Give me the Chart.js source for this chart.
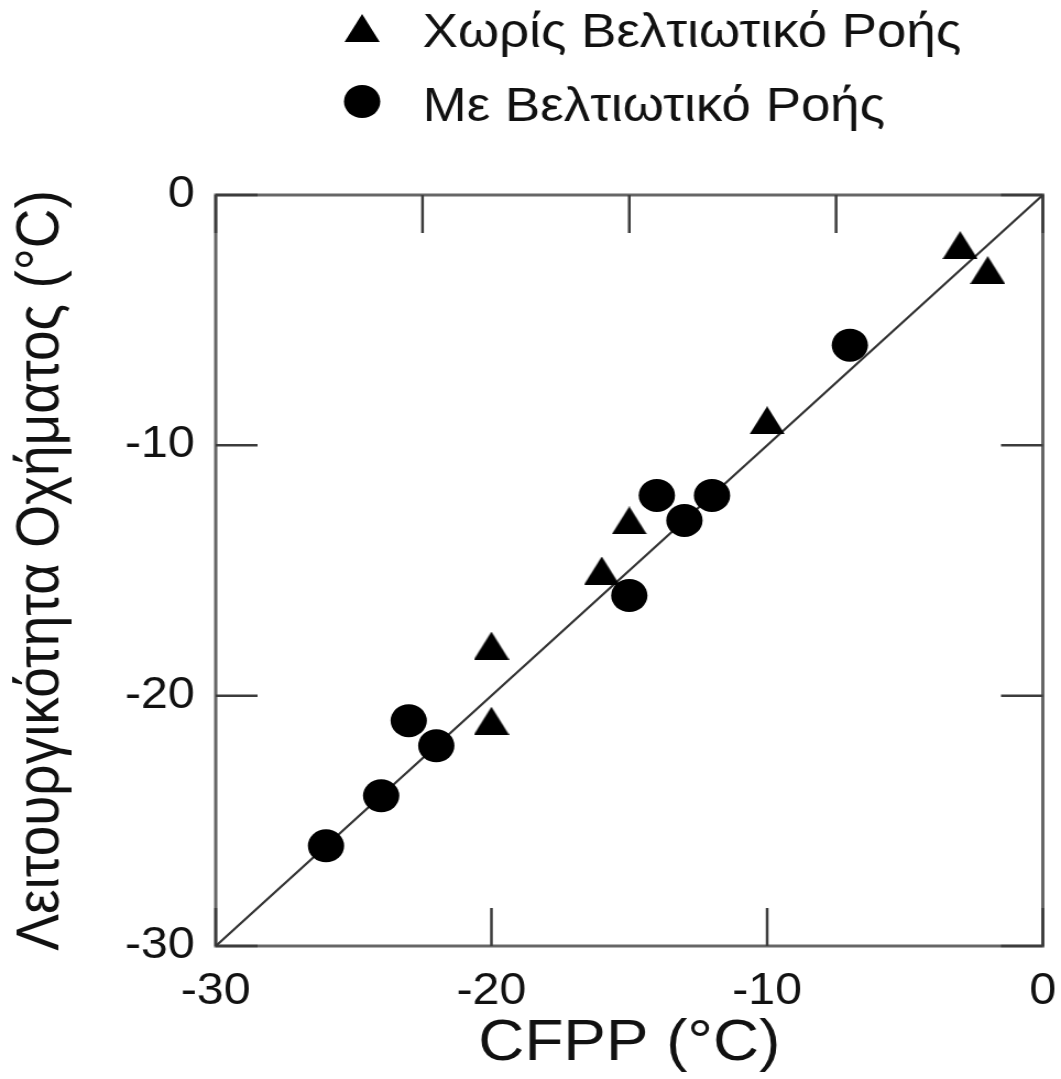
<!DOCTYPE html>
<html>
<head>
<meta charset="utf-8">
<title>CFPP</title>
<script src="https://cdn.jsdelivr.net/npm/chart.js@4.4.1/dist/chart.umd.min.js"></script>
<style>
  html, body { margin: 0; padding: 0; background: #fff; }
</style>
</head>
<body>
<!-- drawn at 964 wide, shown at 1061 wide (the figure is horizontally stretched) -->
<canvas id="chart" width="964" height="1079" style="display:block;width:1061px;height:1079px"></canvas>
<script>
// Χωρίς βελτιωτικό ροής
const noFlowX = [-3, -2, -10, -15, -16, -20, -20];
const noFlowY = [-2, -3, -9, -13, -15, -18, -21];

// Με βελτιωτικό ροής
const withFlowX = [-7, -14, -12, -13, -15, -23, -22, -24, -26];
const withFlowY = [-6, -12, -12, -13, -16, -21, -22, -24, -26];

// y = x reference line
const diagX = [-30, 0];
const diagY = [-30, 0];

// inner tick marks on each side of the frame
const bottomTicks = [-30, -20, -10, 0];
const topTicks = [-30, -22.5, -15, -7.5, 0];
const leftTicks = [0, -10, -20, -30];
const rightTicks = [0, -10, -20, -30];

const FONT = "'Liberation Sans', Arial, Helvetica, sans-serif";
Chart.defaults.font.family = FONT;
Chart.defaults.color = '#111';

function toPoints(xs, ys) {
    return xs.map((x, i) => ({ x: x, y: ys[i] }));
}

// solid triangle used as point style
function makeTriangle(w, h, color) {
    const c = document.createElement('canvas');
    c.width = w;
    c.height = h;
    const g = c.getContext('2d');
    g.fillStyle = color;
    g.beginPath();
    g.moveTo(w / 2, 0);
    g.lineTo(w, h);
    g.lineTo(0, h);
    g.closePath();
    g.fill();
    return c;
}

const triangleMark = makeTriangle(32, 28, '#000');
const TICK = 38;

// frame box with inward ticks
const frameTicks = {
    id: 'frameTicks',
    beforeDatasetsDraw(chart) {
        const { ctx, chartArea: a, scales: { x, y } } = chart;
        ctx.save();
        ctx.strokeStyle = '#666';
        ctx.lineWidth = 3;
        ctx.strokeRect(a.left, a.top, a.right - a.left, a.bottom - a.top);

        ctx.strokeStyle = '#3c3c3c';
        ctx.lineWidth = 2.5;
        ctx.beginPath();
        bottomTicks.forEach(v => {
            const px = x.getPixelForValue(v);
            ctx.moveTo(px, a.bottom);
            ctx.lineTo(px, a.bottom - TICK);
        });
        topTicks.forEach(v => {
            const px = x.getPixelForValue(v);
            ctx.moveTo(px, a.top);
            ctx.lineTo(px, a.top + TICK);
        });
        leftTicks.forEach(v => {
            const py = y.getPixelForValue(v);
            ctx.moveTo(a.left, py);
            ctx.lineTo(a.left + TICK, py);
        });
        rightTicks.forEach(v => {
            const py = y.getPixelForValue(v);
            ctx.moveTo(a.right, py);
            ctx.lineTo(a.right - TICK, py);
        });
        ctx.stroke();
        ctx.restore();
    }
};

// two-row legend above the plot
const stackedLegend = {
    id: 'stackedLegend',
    afterDraw(chart) {
        const ctx = chart.ctx;
        const markX = 329, textX = 384, firstRow = 34, rowGap = 73.5;
        ctx.save();
        ctx.font = '48px ' + FONT;
        ctx.fillStyle = '#111';
        ctx.textBaseline = 'middle';
        chart.data.datasets.filter(ds => ds.inLegend).forEach((ds, i) => {
            const rowY = firstRow + i * rowGap;
            const my = rowY - 6;
            if (typeof ds.pointStyle === 'object') {
                const img = ds.pointStyle;
                ctx.drawImage(img, markX - img.width / 2, my - img.height / 2);
            } else {
                ctx.fillStyle = ds.backgroundColor;
                ctx.beginPath();
                ctx.arc(markX, my, ds.pointRadius, 0, Math.PI * 2);
                ctx.fill();
            }
            ctx.fillStyle = '#111';
            ctx.fillText(ds.label, textX, rowY);
        });
        ctx.restore();
    }
};

new Chart(document.getElementById('chart'), {
    type: 'scatter',
    data: {
        datasets: [
            {
                label: 'Χωρίς Βελτιωτικό Ροής',
                data: toPoints(noFlowX, noFlowY),
                pointStyle: triangleMark,
                pointRadius: 16,
                backgroundColor: '#000',
                borderWidth: 0,
                inLegend: true
            },
            {
                label: 'Με Βελτιωτικό Ροής',
                data: toPoints(withFlowX, withFlowY),
                pointStyle: 'circle',
                pointRadius: 16.5,
                backgroundColor: '#000',
                borderColor: '#000',
                borderWidth: 0,
                inLegend: true
            },
            {
                label: 'y = x',
                data: toPoints(diagX, diagY),
                showLine: true,
                pointRadius: 0,
                borderColor: '#333',
                borderWidth: 2.2,
                inLegend: false
            }
        ]
    },
    options: {
        responsive: false,
        animation: false,
        devicePixelRatio: 1,
        events: [],
        layout: {
            padding: { left: 0, right: 16, top: 195, bottom: 0 }
        },
        plugins: {
            legend: { display: false },
            tooltip: { enabled: false }
        },
        scales: {
            x: {
                type: 'linear',
                position: 'bottom',
                min: -30,
                max: 0,
                grid: { display: false, drawTicks: false },
                border: { display: false },
                ticks: {
                    stepSize: 10,
                    padding: 19,
                    maxRotation: 0,
                    font: { size: 44 },
                    color: '#111'
                },
                title: {
                    display: true,
                    text: 'CFPP (°C)',
                    font: { size: 58 },
                    color: '#111',
                    padding: { top: 0, bottom: 0 }
                },
                afterFit(scale) {
                    scale.height = 133;
                    // end labels may hang over the frame edges
                    scale.paddingLeft = 10;
                    scale.paddingRight = 10;
                }
            },
            y: {
                type: 'linear',
                position: 'left',
                min: -30,
                max: 0,
                grid: { display: false, drawTicks: false },
                border: { display: false },
                ticks: {
                    stepSize: 10,
                    padding: 19,
                    font: { size: 44 },
                    color: '#111'
                },
                title: {
                    display: true,
                    text: 'Λειτουργικότητα Οχήματος (°C)',
                    font: { size: 55 },
                    color: '#111',
                    padding: { top: 5, bottom: 0 }
                },
                afterFit(scale) { scale.width = 196; }
            }
        }
    },
    plugins: [frameTicks, stackedLegend]
});
</script>
</body>
</html>
